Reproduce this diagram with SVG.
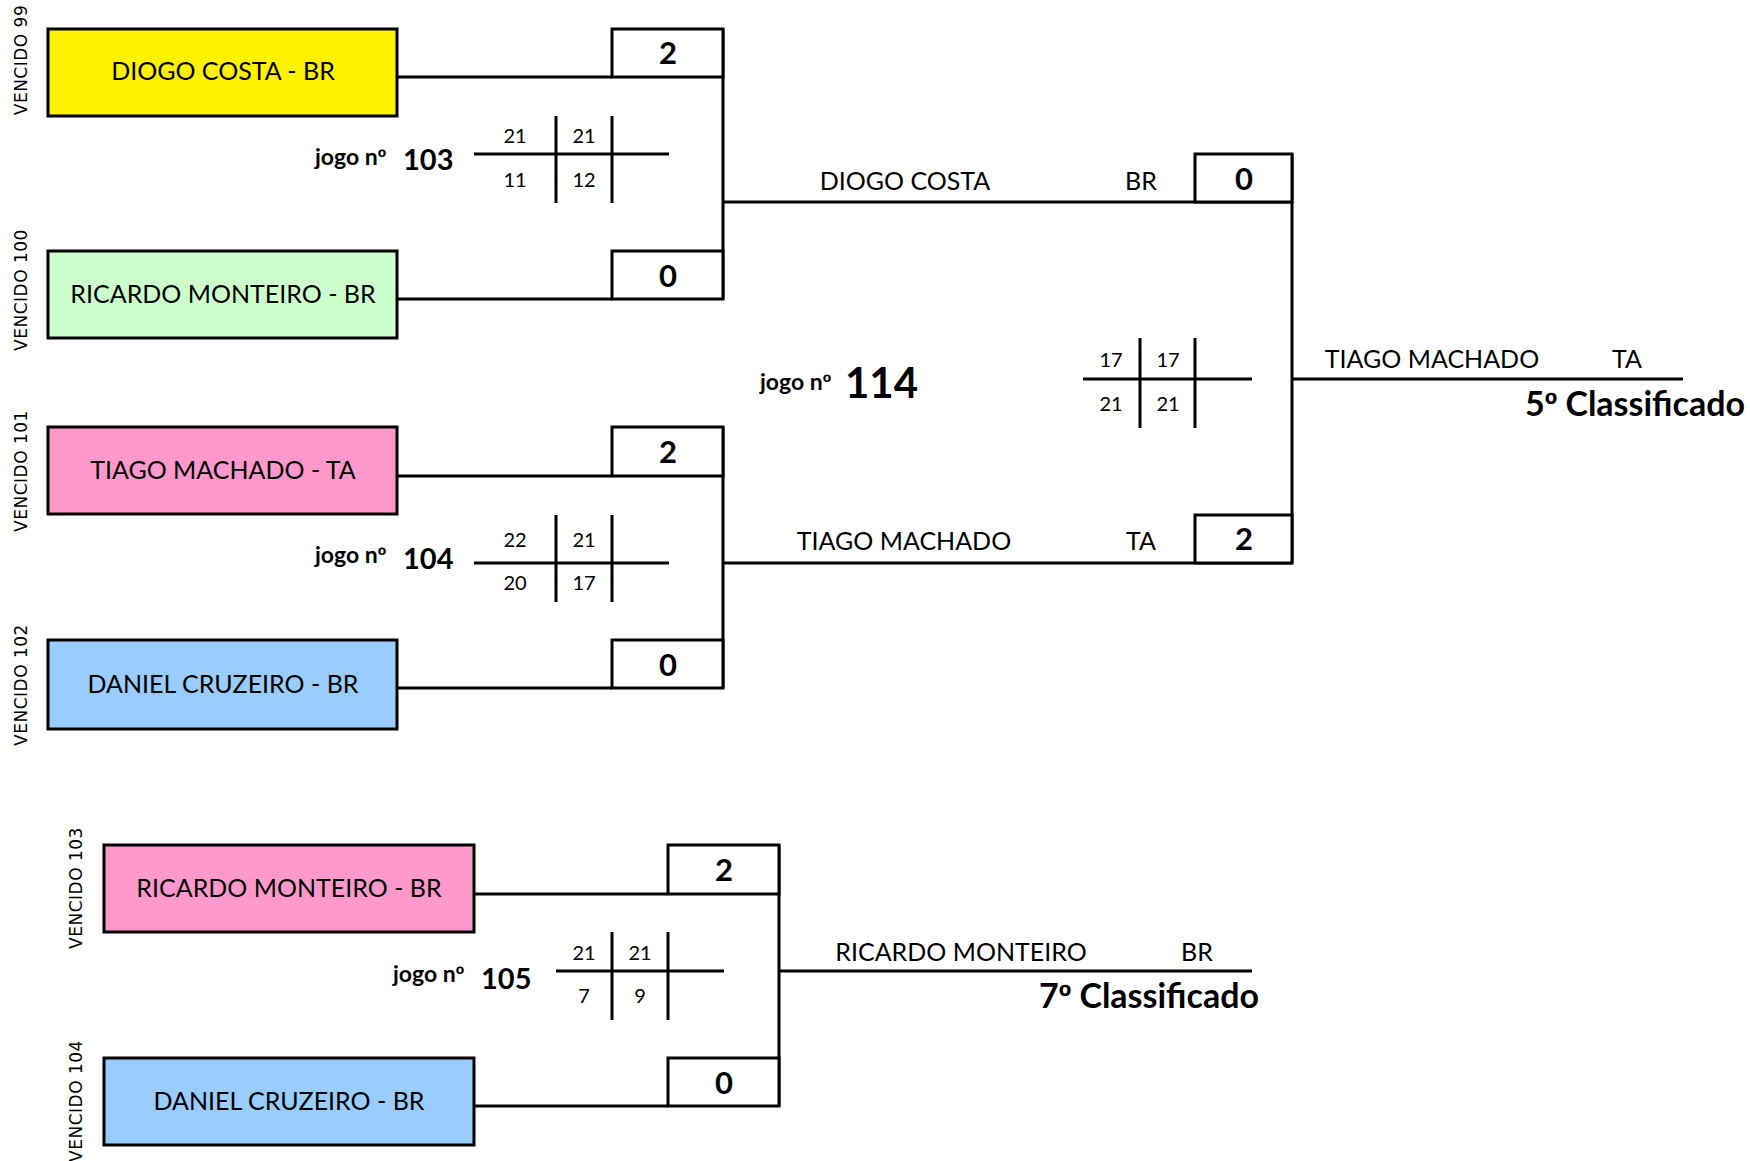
<svg xmlns="http://www.w3.org/2000/svg" width="1750" height="1161" viewBox="0 0 1750 1161">
<style>
.bx{stroke:#000;stroke-width:3}
.sb{fill:#fff;stroke:#000;stroke-width:3}
.ln{fill:none;stroke:#000;stroke-width:3}
text{font-family:Lato,"Open Sans","Liberation Sans",sans-serif;fill:#000}
.o{font-family:"Liberation Sans",sans-serif}
.nm{font-size:25px;text-anchor:middle}
.sc{font-size:31px;font-weight:bold;text-anchor:middle}
.pt{font-size:20px;text-anchor:middle}
.jg{font-size:23px;font-weight:bold}
.jn{font-size:29px;font-weight:bold}
.jb{font-size:42px;font-weight:bold}
.cl{font-size:34px;font-weight:bold;text-anchor:end}
.vl{font-family:"DejaVu Sans",sans-serif;font-size:17px;letter-spacing:0.5px;text-anchor:middle}
</style>
<rect width="1750" height="1161" fill="#fff"/>
<g id="connectors">
<path class="ln" d="M397,77H612M397,299H612M723,29V299M723,202H1292"/>
<path class="ln" d="M397,476H612M397,688H612M723,427V688M723,563H1292"/>
<path class="ln" d="M1292,154V563M1292,379H1683"/>
<path class="ln" d="M474,894H668M474,1106H668M779,845V1106M779,971H1252"/>
</g>
<g id="p-diogo"><rect class="bx" x="48" y="29" width="349" height="87" fill="#FFF200"/><text class="nm" x="223" y="80">DIOGO COSTA - BR</text><text class="vl" transform="translate(27,60) rotate(-90)">VENCIDO 99</text></g>
<g id="p-ricardo"><rect class="bx" x="48" y="251" width="349" height="87" fill="#CCFFCC"/><text class="nm" x="223" y="303">RICARDO MONTEIRO - BR</text><text class="vl" transform="translate(27,290) rotate(-90)">VENCIDO 100</text></g>
<g id="p-tiago"><rect class="bx" x="48" y="427" width="349" height="87" fill="#FF99CC"/><text class="nm" x="223" y="479">TIAGO MACHADO - TA</text><text class="vl" transform="translate(27,471) rotate(-90)">VENCIDO 101</text></g>
<g id="p-daniel"><rect class="bx" x="48" y="640" width="349" height="89" fill="#99CCFF"/><text class="nm" x="223" y="693">DANIEL CRUZEIRO - BR</text><text class="vl" transform="translate(27,685) rotate(-90)">VENCIDO 102</text></g>
<g id="p-ricardo2"><rect class="bx" x="104" y="845" width="370" height="87" fill="#FF99CC"/><text class="nm" x="289" y="897">RICARDO MONTEIRO - BR</text><text class="vl" transform="translate(82,888) rotate(-90)">VENCIDO 103</text></g>
<g id="p-daniel2"><rect class="bx" x="104" y="1058" width="370" height="87" fill="#99CCFF"/><text class="nm" x="289" y="1110">DANIEL CRUZEIRO - BR</text><text class="vl" transform="translate(82,1101) rotate(-90)">VENCIDO 104</text></g>
<g id="s103a"><rect class="sb" x="612" y="29" width="111" height="48"/><text class="sc" x="668" y="64">2</text></g>
<g id="s103b"><rect class="sb" x="612" y="251" width="111" height="48"/><text class="sc" x="668" y="287">0</text></g>
<g id="s104a"><rect class="sb" x="612" y="427" width="111" height="49"/><text class="sc" x="668" y="463">2</text></g>
<g id="s104b"><rect class="sb" x="612" y="640" width="111" height="48"/><text class="sc" x="668" y="676">0</text></g>
<g id="s114a"><rect class="sb" x="1195" y="154" width="97" height="48"/><text class="sc" x="1244" y="190">0</text></g>
<g id="s114b"><rect class="sb" x="1195" y="515" width="97" height="48"/><text class="sc" x="1244" y="550">2</text></g>
<g id="s105a"><rect class="sb" x="668" y="845" width="111" height="49"/><text class="sc" x="724" y="881">2</text></g>
<g id="s105b"><rect class="sb" x="668" y="1058" width="111" height="48"/><text class="sc" x="724" y="1094">0</text></g>
<g id="g103">
<path class="ln" d="M474,154H669M556,116V203M612,116V203"/>
<text class="pt" x="515" y="143">21</text><text class="pt" x="584" y="143">21</text>
<text class="pt" x="515" y="187">11</text><text class="pt" x="584" y="187">12</text>
<text class="jg" x="315" y="165">jogo n<tspan class="o">º</tspan></text><text class="jn" x="403" y="170">103</text>
</g>
<g id="g104">
<path class="ln" d="M474,563H669M556,515V602M612,515V602"/>
<text class="pt" x="515" y="547">22</text><text class="pt" x="584" y="547">21</text>
<text class="pt" x="515" y="590">20</text><text class="pt" x="584" y="590">17</text>
<text class="jg" x="315" y="563">jogo n<tspan class="o">º</tspan></text><text class="jn" x="403" y="569">104</text>
</g>
<g id="g114">
<path class="ln" d="M1083,379H1252M1140,338V428M1195,338V428"/>
<text class="pt" x="1111" y="367">17</text><text class="pt" x="1168" y="367">17</text>
<text class="pt" x="1111" y="411">21</text><text class="pt" x="1168" y="411">21</text>
<text class="jg" x="760" y="390">jogo n<tspan class="o">º</tspan></text><text class="jb" x="845" y="398">114</text>
</g>
<g id="g105">
<path class="ln" d="M556,971H724M612,932V1020M668,932V1020"/>
<text class="pt" x="584" y="960">21</text><text class="pt" x="640" y="960">21</text>
<text class="pt" x="584" y="1003">7</text><text class="pt" x="640" y="1003">9</text>
<text class="jg" x="393" y="982">jogo n<tspan class="o">º</tspan></text><text class="jn" x="481" y="989">105</text>
</g>
<g id="w103"><text class="nm" x="905" y="190">DIOGO COSTA</text><text class="nm" x="1141" y="190">BR</text></g>
<g id="w104"><text class="nm" x="904" y="550">TIAGO MACHADO</text><text class="nm" x="1141" y="550">TA</text></g>
<g id="w114"><text class="nm" x="1432" y="368">TIAGO MACHADO</text><text class="nm" x="1627" y="368">TA</text><text class="cl" x="1745" y="416">5<tspan class="o">º</tspan> Classificado</text></g>
<g id="w105"><text class="nm" x="961" y="961">RICARDO MONTEIRO</text><text class="nm" x="1197" y="961">BR</text><text class="cl" x="1259" y="1008">7<tspan class="o">º</tspan> Classificado</text></g>
</svg>
